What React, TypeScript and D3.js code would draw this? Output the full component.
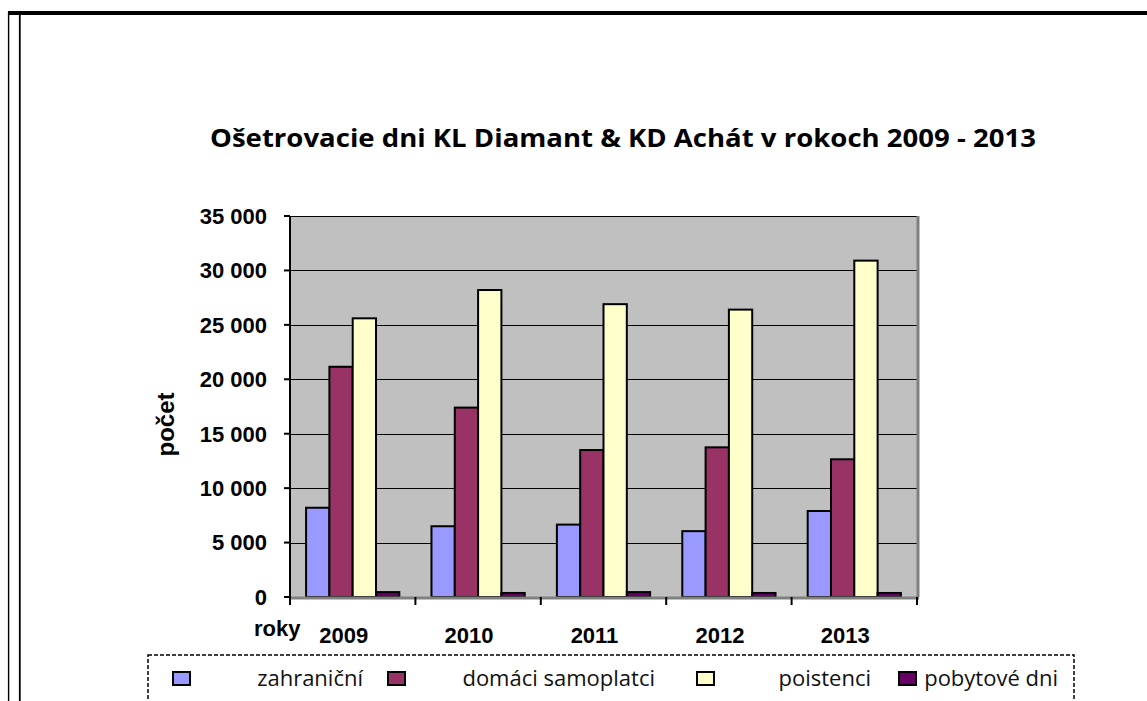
import * as d3 from 'd3';

const years = ['2009', '2010', '2011', '2012', '2013'];
const seriesNames = ['zahraniční', 'domáci samoplatci', 'poistenci', 'pobytové dni'];
const seriesColors = ['#9999FF', '#993366', '#FFFFCC', '#660066'];
// values per series, one per year
const zahranicni = [8200, 6500, 6650, 6050, 7900];
const domaci = [21150, 17400, 13500, 13750, 12650];
const poistenci = [25600, 28200, 26900, 26400, 30900];
const pobytove = [450, 370, 450, 370, 370];
const seriesValues = [zahranicni, domaci, poistenci, pobytove];
const yTicks = [0, 5000, 10000, 15000, 20000, 25000, 30000, 35000];

const W = 1147;
const H = 701;
const plotLeft = 290;
const plotRight = 917;
const plotTop = 216;
const plotBottom = 597;

// legend layout: square x and right end of the label
const legendSquareX = [172, 387, 696, 898];
const legendTextEnd = [363, 655, 871, 1058];

const locale = d3.formatLocale({ thousands: ' ', grouping: [3], decimal: ',', currency: ['', ''] });
const fmt = locale.format(',d');

const App = () => {
  const x0 = d3.scaleBand<string>().domain(years).range([plotLeft, plotRight]).paddingInner(0);
  const x1 = d3
    .scaleBand<number>()
    .domain(d3.range(seriesNames.length))
    .range([0, x0.bandwidth()])
    .paddingInner(0)
    .paddingOuter(0.69);
  const y = d3.scaleLinear().domain([0, 35000]).range([plotBottom, plotTop]);

  const tickFont = { fontFamily: '"Liberation Sans", Arial, sans-serif', fontWeight: 700, fontSize: 22 };

  return (
    <svg
      width={W}
      height={H}
      style={{ position: 'absolute', left: 0, top: 0, background: '#fff' }}
    >
      {/* page frame */}
      <line x1={8.6} y1={12} x2={8.6} y2={H} stroke="#000" strokeWidth={1.4} />
      <line x1={19.8} y1={12} x2={19.8} y2={H} stroke="#000" strokeWidth={1.8} />
      <line x1={8} y1={13} x2={W} y2={13} stroke="#000" strokeWidth={4} />

      <text
        x={623}
        y={147}
        textAnchor="middle"
        textLength={826}
        lengthAdjust="spacingAndGlyphs"
        style={{ fontFamily: '"Open Sans", sans-serif', fontWeight: 700, fontSize: 25 }}
      >
        Ošetrovacie dni KL Diamant &amp; KD Achát v rokoch 2009 - 2013
      </text>

      {/* plot area */}
      <rect x={plotLeft} y={plotTop} width={plotRight - plotLeft} height={plotBottom - plotTop} fill="#C0C0C0" />
      {yTicks.slice(1).map((t) => (
        <line key={t} x1={plotLeft} x2={plotRight} y1={Math.round(y(t)) + 0.5} y2={Math.round(y(t)) + 0.5} stroke="#000" strokeWidth={1} />
      ))}
      <line x1={plotRight + 1} y1={plotTop} x2={plotRight + 1} y2={plotBottom} stroke="#808080" strokeWidth={3} />

      {/* bars */}
      {years.map((yr, i) => (
        <g key={yr} transform={`translate(${x0(yr)},0)`}>
          {seriesValues.map((vals, s) => (
            <rect
              key={s}
              x={x1(s)}
              y={y(vals[i])}
              width={x1.bandwidth()}
              height={plotBottom - y(vals[i])}
              fill={seriesColors[s]}
              stroke="#000"
              strokeWidth={2}
            />
          ))}
        </g>
      ))}

      {/* axes */}
      <line x1={plotLeft} y1={plotBottom + 1} x2={plotRight + 2} y2={plotBottom + 1} stroke="#808080" strokeWidth={3} />
      <line x1={plotLeft} y1={plotTop} x2={plotLeft} y2={plotBottom + 2} stroke="#000" strokeWidth={2} />
      {yTicks.map((t) => (
        <g key={t}>
          <line x1={plotLeft - 6} x2={plotLeft} y1={y(t)} y2={y(t)} stroke="#000" strokeWidth={2} />
          <text x={267} y={y(t)} dy="0.36em" textAnchor="end" style={tickFont}>
            {fmt(t)}
          </text>
        </g>
      ))}
      {years.concat(['end']).map((yr, i) => {
        const xx = i < years.length ? (x0(yr) as number) : plotRight;
        return <line key={yr} x1={xx} x2={xx} y1={plotBottom} y2={plotBottom + 8} stroke="#000" strokeWidth={2} />;
      })}
      {years.map((yr) => (
        <text key={yr} x={(x0(yr) as number) + x0.bandwidth() / 2 - 9} y={643} textAnchor="middle" style={tickFont}>
          {yr}
        </text>
      ))}

      <text x={254} y={636} style={tickFont}>
        roky
      </text>
      <text
        transform={`translate(174,${(plotTop + plotBottom) / 2 + 18}) rotate(-90)`}
        textAnchor="middle"
        style={{ ...tickFont, fontSize: 24 }}
      >
        počet
      </text>

      {/* legend */}
      <rect x={148} y={655} width={926} height={80} fill="#fff" stroke="#000" strokeWidth={1.5} strokeDasharray="4 2" />
      {seriesNames.map((name, s) => (
        <g key={name}>
          <rect x={legendSquareX[s] + 1} y={672} width={17} height={13} fill={seriesColors[s]} stroke="#000" strokeWidth={2} />
          <text
            x={legendTextEnd[s]}
            y={686}
            textAnchor="end"
            style={{ fontFamily: '"Open Sans", sans-serif', fontSize: 22, fill: '#111' }}
          >
            {name}
          </text>
        </g>
      ))}
    </svg>
  );
};

export default App;
